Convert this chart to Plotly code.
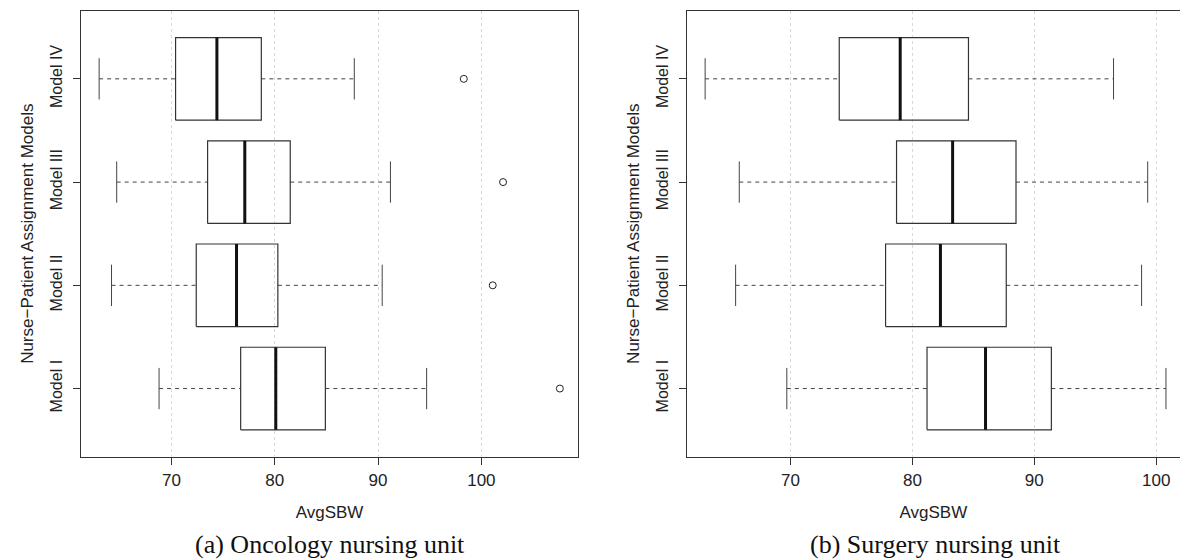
import plotly.graph_objects as go

# ---------------- data ----------------
models = ["Model I", "Model II", "Model III", "Model IV"]

onc_lower = [68.8, 64.2, 64.7, 63.0]
onc_q1 = [76.7, 72.4, 73.5, 70.4]
onc_median = [80.1, 76.3, 77.1, 74.4]
onc_q3 = [84.9, 80.3, 81.5, 78.7]
onc_upper = [94.7, 90.4, 91.2, 87.7]
onc_outliers = [[107.6], [101.1], [102.1], [98.3]]

sur_lower = [69.7, 65.5, 65.8, 63.0]
sur_q1 = [81.2, 77.8, 78.7, 74.0]
sur_median = [86.0, 82.3, 83.3, 79.0]
sur_q3 = [91.4, 87.7, 88.5, 84.6]
sur_upper = [100.8, 98.8, 99.3, 96.5]
sur_outliers = [[], [], [], []]

x_ticks = [70, 80, 90, 100]
x_title = "AvgSBW"
y_title = "Nurse\u2212Patient Assignment Models"
captions = ["(a) Oncology nursing unit", "(b) Surgery nursing unit"]

# ---------------- styling ----------------
W, H = 1180, 559
BOX_HALF = 0.4
CAP_HALF = 0.2
LINE = "#333333"
TXT = "#222222"
SANS = "Liberation Sans, Arial, Helvetica, sans-serif"
SERIF = "Liberation Serif, Times New Roman, serif"

# plot frame pixel positions
top_px, bot_px = 10.7, 456.7
panels_px = [(80.7, 578.3, 578.3), (686.7, 1184.4, 1180.0)]  # left, full right, visible right

fig = go.Figure()


def add_panel(idx, lower, q1, med, q3, upper, outl):
    xa = "x" if idx == 0 else "x2"
    ya = "y" if idx == 0 else "y2"
    pos = list(range(1, len(models) + 1))
    bx, by, mx, my, wx, wy, cx, cy, ox, oy = [], [], [], [], [], [], [], [], [], []
    for i, p in enumerate(pos):
        bx += [q1[i], q3[i], q3[i], q1[i], q1[i], None]
        by += [p - BOX_HALF, p - BOX_HALF, p + BOX_HALF, p + BOX_HALF, p - BOX_HALF, None]
        mx += [med[i], med[i], None]
        my += [p - BOX_HALF, p + BOX_HALF, None]
        wx += [lower[i], q1[i], None, q3[i], upper[i], None]
        wy += [p, p, None, p, p, None]
        cx += [lower[i], lower[i], None, upper[i], upper[i], None]
        cy += [p - CAP_HALF, p + CAP_HALF, None, p - CAP_HALF, p + CAP_HALF, None]
        for o in outl[i]:
            ox.append(o)
            oy.append(p)
    common = dict(xaxis=xa, yaxis=ya, showlegend=False, hoverinfo="skip")
    fig.add_trace(go.Scatter(x=wx, y=wy, mode="lines",
                             line=dict(color="#444444", width=1, dash="4px,4px"), **common))
    fig.add_trace(go.Scatter(x=cx, y=cy, mode="lines",
                             line=dict(color="#444444", width=1), **common))
    fig.add_trace(go.Scatter(x=bx, y=by, mode="lines",
                             line=dict(color=LINE, width=1.2), **common))
    fig.add_trace(go.Scatter(x=mx, y=my, mode="lines",
                             line=dict(color="#111111", width=3), **common))
    if ox:
        fig.add_trace(go.Scatter(x=ox, y=oy, mode="markers",
                                 marker=dict(symbol="circle-open", size=7,
                                             color="#222222", line=dict(width=1)),
                                 **common))
    # R-style range: data range extended by 4%
    vals = lower + upper + [o for l in outl for o in l]
    lo, hi = min(vals), max(vals)
    ext = 0.04 * (hi - lo)
    lo, hi = lo - ext, hi + ext
    left, right_full, right_vis = panels_px[idx]
    hi_vis = lo + (hi - lo) * (right_vis - left) / (right_full - left)
    return (lo, hi_vis), (left / W, right_vis / W)


rng_a, dom_a = add_panel(0, onc_lower, onc_q1, onc_median, onc_q3, onc_upper, onc_outliers)
rng_b, dom_b = add_panel(1, sur_lower, sur_q1, sur_median, sur_q3, sur_upper, sur_outliers)

ydom = [1 - bot_px / H, 1 - top_px / H]
yrange = [1 - 0.5 - 0.04 * len(models), len(models) + 0.5 + 0.04 * len(models)]

xcommon = dict(tickvals=x_ticks, ticks="outside", ticklen=7, tickcolor=LINE,
               showline=True, linecolor=LINE, linewidth=1, mirror=True,
               showgrid=True, gridcolor="#d9d9d9", griddash="dot", gridwidth=1,
               zeroline=False, tickfont=dict(family=SANS, size=17, color=TXT),
               ticklabelstandoff=1,
               title=dict(text=x_title, font=dict(family=SANS, size=17, color=TXT), standoff=17))
ycommon = dict(tickvals=list(range(1, len(models) + 1)), ticktext=models, range=yrange,
               ticks="outside", ticklen=7, tickcolor=LINE, tickangle=-90,
               showline=True, linecolor=LINE, linewidth=1,
               showgrid=False, zeroline=False,
               tickfont=dict(family=SANS, size=16, color=TXT),
               ticklabelstandoff=4,
               title=dict(text=y_title, font=dict(family=SANS, size=17, color=TXT), standoff=10))

fig.update_layout(
    width=W, height=H, margin=dict(l=0, r=0, t=0, b=0),
    paper_bgcolor="white", plot_bgcolor="white",
    xaxis=dict(domain=list(dom_a), range=list(rng_a), anchor="y", **xcommon),
    yaxis=dict(domain=ydom, anchor="x", mirror=True, **ycommon),
    xaxis2=dict(domain=list(dom_b), range=list(rng_b), anchor="y2", **xcommon),
    yaxis2=dict(domain=ydom, anchor="x2", mirror=False, **ycommon),
)

for i, cap in enumerate(captions):
    left, right_full, _ = panels_px[i]
    fig.add_annotation(text=cap, xref="paper", yref="paper",
                       x=(left + right_full) / 2 / W, y=1 - 544.0 / H,
                       xanchor="center", yanchor="middle", showarrow=False,
                       font=dict(family=SERIF, size=26, color="#111111"))

fig.write_html("out.html")
